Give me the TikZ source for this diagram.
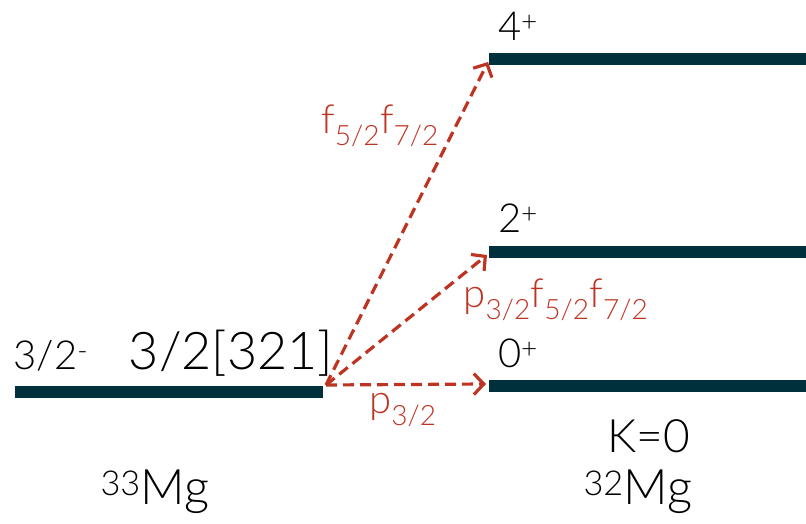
\documentclass[tikz,border=0pt]{standalone}
\usepackage{fontspec}
\setmainfont{Lato}[UprightFont={* Light}]
\usepackage{xcolor}
\usetikzlibrary{calc,arrows.meta,positioning}

\definecolor{levelteal}{RGB}{0,48,60}
\definecolor{transred}{RGB}{190,52,34}

\newcommand{\fs}[1]{\fontsize{#1}{#1}\selectfont}

\begin{document}
\begin{tikzpicture}[
  x=1pt,y=-1pt,
  line cap=butt,
  level/.style={levelteal,line width=11.5pt},
  transition/.style={transred,line width=3.2pt,dash pattern=on 11pt off 6pt,
    -{Straight Barb[length=10pt,width=21pt,line width=3.2pt]}},
  spinlabel/.style={inner sep=0pt,font=\fs{40}},
  translabel/.style={transred,inner sep=0pt,font=\fs{40}},
  nucleus/.style={inner sep=0pt,font=\fs{49}}
]
\path[use as bounding box] (0,0) rectangle (806,524);

% levels of 33Mg and 32Mg
\coordinate (gsL) at (15,392);
\coordinate (gsR) at (323,392);
\coordinate (zeroL) at (489,386);
\coordinate (zeroR) at (806,386);
\coordinate (twoL) at (489,252);
\coordinate (twoR) at (806,252);
\coordinate (fourL) at (489,59);
\coordinate (fourR) at (806,59);

\draw[level] (gsL) -- (gsR);
\draw[level] (zeroL) -- (zeroR);
\draw[level] (twoL) -- (twoR);
\draw[level] (fourL) -- (fourR);

\coordinate (src) at (326,385);

% transitions
\draw[transition] (src) -- ($(zeroL)+(-3,-2)$);
\draw[transition] (src) -- ($(twoL)+(-2,3)$);
\draw[transition] (src) -- ($(fourL)+(-1,3)$);

% spins
\node[spinlabel] (gsspin) at (51,356) {3/2\textsuperscript{-}};
\node[inner sep=0pt,font=\fs{52}] (nilsson) at (231,353) {3/2[321]};
\node[spinlabel] (fourspin) at (518,26) {4\textsuperscript{+}};
\node[spinlabel] (twospin) at (518,218) {2\textsuperscript{+}};
\node[spinlabel] (zerospin) at (518,353) {0\textsuperscript{+}};

% configurations
\node[translabel] (ffcfg) at (380,126) {f\textsubscript{5/2}f\textsubscript{7/2}};
\node[translabel] (pffcfg) at (556,300) {p\textsubscript{3/2}f\textsubscript{5/2}f\textsubscript{7/2}};
\node[translabel] (pcfg) at (403,410) {p\textsubscript{3/2}};

% nuclei
\node[inner sep=0pt,font=\fs{46}] (kband) at (649,436) {K=0};
\node[nucleus] (mg32) at (638,492) {\textsuperscript{32}Mg};
\node[nucleus] (mg33) at (155,492) {\textsuperscript{33}Mg};
\end{tikzpicture}
\end{document}
